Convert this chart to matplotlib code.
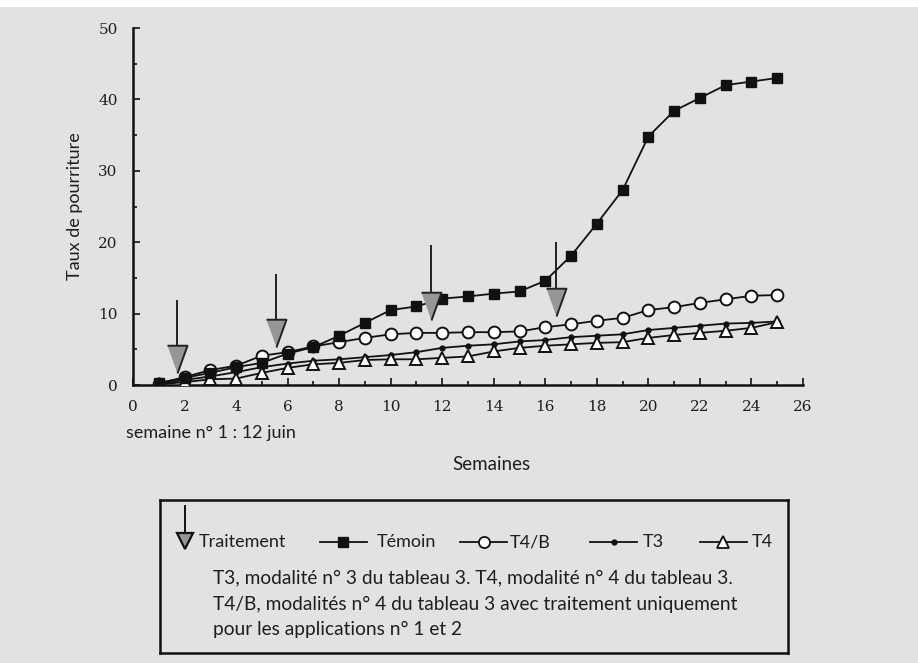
import numpy as np
import matplotlib.pyplot as plt
from matplotlib.patches import Rectangle

# weeks and rot rates
semaines = np.arange(1, 26)
temoin = [0.3, 1.0, 1.7, 2.5, 3.1, 4.4, 5.3, 6.9, 8.7, 10.5, 11.0, 12.1, 12.4,
          12.8, 13.1, 14.6, 18.1, 22.6, 27.3, 34.8, 38.4, 40.2, 42.0, 42.5, 43.0]
t4b = [0.2, 1.1, 2.1, 2.7, 4.1, 4.6, 5.4, 6.0, 6.6, 7.1, 7.3, 7.3, 7.4,
       7.4, 7.5, 8.1, 8.5, 9.0, 9.4, 10.5, 10.9, 11.5, 12.0, 12.5, 12.6]
t3 = [0.2, 0.7, 1.2, 1.8, 2.5, 3.0, 3.4, 3.6, 3.9, 4.2, 4.6, 5.2, 5.5,
      5.7, 6.1, 6.3, 6.7, 6.9, 7.1, 7.7, 8.0, 8.3, 8.6, 8.7, 8.9]
t4 = [0.1, 0.4, 0.8, 0.9, 1.7, 2.4, 2.9, 3.1, 3.5, 3.6, 3.6, 3.8, 4.0,
      4.7, 5.2, 5.5, 5.7, 5.9, 6.0, 6.6, 7.0, 7.3, 7.6, 8.0, 8.8]

# treatment arrows: week, tip of arrowhead, top of shaft
fleche_x = [1.7, 5.55, 11.55, 16.4]
fleche_pointe = [1.7, 5.3, 9.1, 9.6]
fleche_haut = [11.9, 15.5, 19.6, 20.0]
fleche_hauteur = 3.9

fond = '#e2e2e2'
texte = '#1e1e1e'
police = 'Lato'
police_chiffres = 'DejaVu Serif'
taille = 13

fig = plt.figure(figsize=(9.18, 6.63), dpi=100, facecolor=fond)
W, H = 918, 663
fig.patches.append(Rectangle((0, 1 - 7 / H), 1, 7 / H, transform=fig.transFigure,
                             facecolor='white', edgecolor='none', zorder=0))

ax = fig.add_axes([133 / W, 1 - 385 / H, 670 / W, 357 / H])
ax.set_facecolor('none')
for s in ['top', 'right']:
    ax.spines[s].set_visible(False)
for s in ['left', 'bottom']:
    ax.spines[s].set_linewidth(1.8)
    ax.spines[s].set_color('#111111')

kw = dict(color='#111111', lw=1.3)
ax.plot(semaines, temoin, marker='s', ms=7.5, mfc='#111111', mec='#111111', **kw, zorder=4)
ax.plot(semaines, t4b, marker='o', ms=8.5, mfc='white', mec='#111111', mew=1.4, **kw, zorder=3)
ax.plot(semaines, t3, marker='o', ms=3.5, mfc='#111111', mec='#111111', **kw, zorder=3)
ax.plot(semaines, t4, marker='^', ms=8.5, mfc='white', mec='#111111', mew=1.4, **kw, zorder=3)

# arrows
pointe = [(-0.36, 1.0), (0.36, 1.0), (0.0, 0.0)]
ax.vlines(fleche_x, np.array(fleche_pointe) + fleche_hauteur, fleche_haut,
          color='#222222', lw=1.4, zorder=5)
ax.plot(fleche_x, fleche_pointe, ls='none', marker=pointe, ms=40,
        mfc='#969696', mec='#222222', mew=1.4, zorder=6)

ax.set_xlim(0, 26)
ax.set_ylim(0, 50)
ax.set_xticks(np.arange(0, 27, 2))
ax.set_xticks(np.arange(0, 27, 1), minor=True)
ax.set_yticks(np.arange(0, 51, 10))
ax.set_yticks(np.arange(0, 51, 5), minor=True)
ax.tick_params(axis='x', which='both', direction='in', colors='#111111', width=1.2,
               pad=11, labelcolor=texte)
ax.tick_params(axis='y', which='both', direction='in', colors='#111111', width=1.2,
               pad=11, labelcolor=texte)
ax.tick_params(which='major', direction='in', length=5)
ax.tick_params(which='minor', direction='in', length=3)
for lab in ax.get_xticklabels() + ax.get_yticklabels():
    lab.set_fontfamily(police_chiffres)
    lab.set_fontsize(11)

fig.text(75 / W, 1 - 206 / H, 'Taux de pourriture', rotation=90, ha='center', va='center',
         fontsize=taille, family=police, color=texte)
fig.text(126 / W, 1 - 433 / H, 'semaine n° 1 : 12 juin', ha='left', va='center',
         fontsize=taille, family=police, color=texte)
fig.text(491 / W, 1 - 465 / H, 'Semaines', ha='center', va='center',
         fontsize=taille + 0.5, family=police, color=texte)

# legend box, drawn in pixel coordinates
lax = fig.add_axes([160 / W, 1 - 653 / H, 628 / W, 153 / H])
lax.set_xlim(160, 788)
lax.set_ylim(653, 500)
lax.set_facecolor('none')
lax.set_xticks([])
lax.set_yticks([])
for s in lax.spines.values():
    s.set_linewidth(1.8)
    s.set_color('#111111')

ly = 542
lax.plot([185, 185], [506, 534], color='#111111', lw=1.4)
lax.plot([185], [541], ls='none', marker='v', ms=12, mfc='#969696', mec='#111111', mew=1.6)
lax.text(199, ly, 'Traitement', va='center', ha='left', fontsize=taille, family=police, color=texte)

lax.plot([320, 367], [ly, ly], **kw)
lax.plot([343], [ly], ls='none', marker='s', ms=7, mfc='#111111', mec='#111111')
lax.text(377, ly, 'Témoin', va='center', ha='left', fontsize=taille, family=police, color=texte)

lax.plot([460, 507], [ly, ly], **kw)
lax.plot([484], [ly], ls='none', marker='o', ms=8, mfc='white', mec='#111111', mew=1.3)
lax.text(510, ly, 'T4/B', va='center', ha='left', fontsize=taille, family=police, color=texte)

lax.plot([590, 637], [ly, ly], **kw)
lax.plot([614], [ly], ls='none', marker='o', ms=3.5, mfc='#111111', mec='#111111')
lax.text(643, ly, 'T3', va='center', ha='left', fontsize=taille, family=police, color=texte)

lax.plot([700, 747], [ly, ly], **kw)
lax.plot([723], [ly], ls='none', marker='^', ms=8, mfc='white', mec='#111111', mew=1.3)
lax.text(752, ly, 'T4', va='center', ha='left', fontsize=taille, family=police, color=texte)

lignes = ['T3, modalité n° 3 du tableau 3. T4, modalité n° 4 du tableau 3.',
          'T4/B, modalités n° 4 du tableau 3 avec traitement uniquement',
          'pour les applications n° 1 et 2']
for y, t in zip([578, 604, 629], lignes):
    lax.text(213, y, t, va='center', ha='left', fontsize=taille + 0.8, family=police, color=texte)

fig.savefig('out.png', dpi=100, facecolor=fond)
